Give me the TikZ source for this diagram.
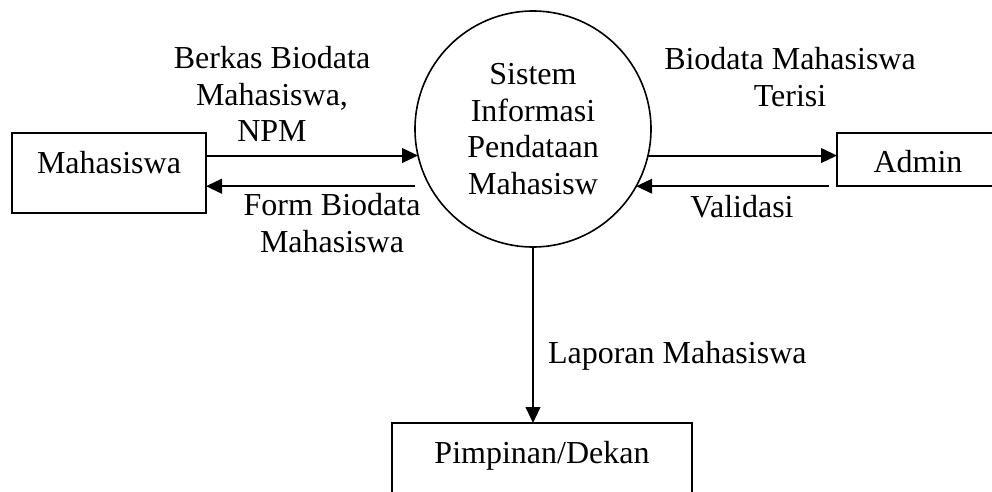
\documentclass[tikz,border=0pt]{standalone}
\usepackage{fontspec}
\setmainfont{Liberation Serif}
\usetikzlibrary{arrows.meta,calc}

\begin{document}
\begin{tikzpicture}[
    x=0.375pt,
    y=0.375pt,
    every node/.style={font=\fontsize{12}{13.8}\selectfont, inner sep=0pt, outer sep=0pt},
    entity/.style={draw=black, line width=0.75pt, text height=8pt, text depth=8pt},
    process/.style={draw=black, circle, line width=0.6pt, align=center, minimum size=88.5pt},
    flow/.style={-{Triangle[length=6pt, width=5.5pt]}, draw=black, line width=0.75pt},
    lbl/.style={align=center}
  ]
    \useasboundingbox (0,0) rectangle (992,491);

    \node[process] (sis) at (533,362) {Sistem\\Informasi\\Pendataan\\Mahasisw};
    \node[entity, minimum width=72.75pt, minimum height=30pt] (mhs) at (109,318) {Mahasiswa};
    \node[entity, minimum width=60.75pt, minimum height=19.875pt,
          text height=9.4pt, text depth=0pt] (adm) at (918,331.5) {Admin};
    \node[entity, minimum width=112.5pt, minimum height=30pt] (pim) at (542,28) {Pimpinan/Dekan};

    \draw[flow] (mhs.east |- sis.193) -- (sis.193);
    \draw[flow] (sis.west |- sis.209) -- (mhs.east |- sis.209);
    \draw[flow] (sis.347) -- (adm.west |- sis.347);
    \draw[flow] ($(adm.west |- sis.331)+(-8,0)$) -- (sis.331);
    \draw[flow] (sis.south) -- (sis.south |- pim.north);

    \node[lbl] (lbBerkas) at (272,397) {Berkas Biodata\\Mahasiswa,\\NPM};
    \node[lbl] (lbForm) at (332,268) {Form Biodata\\Mahasiswa};
    \node[lbl] (lbTerisi) at (790,414) {Biodata Mahasiswa\\Terisi};
    \node[anchor=base] (lbValid) at (742,274) {Validasi};
    \node[anchor=base west] (lbLapor) at (548,128) {Laporan Mahasiswa};
  \end{tikzpicture}
\end{document}
